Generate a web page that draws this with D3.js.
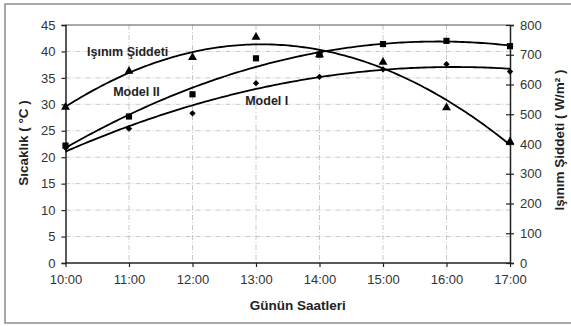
<!DOCTYPE html>
<html>
<head>
<meta charset="utf-8">
<script src="https://cdn.jsdelivr.net/npm/d3@7"></script>
<style>
  body { margin: 0; background: #fff; }
  svg text { font-family: "Liberation Sans", Arial, sans-serif; }
</style>
</head>
<body>
<svg id="chart" width="571" height="326"></svg>
<script>
const hours = [10, 11, 12, 13, 14, 15, 16, 17];
const hourLabels = ["10:00", "11:00", "12:00", "13:00", "14:00", "15:00", "16:00", "17:00"];
const modelI = [21.8, 25.4, 28.3, 34.0, 35.2, 36.6, 37.6, 36.2];
const modelII = [22.2, 27.7, 31.9, 38.7, 39.4, 41.4, 42.0, 41.0];
const radiation = [524, 645, 691, 759, 700, 675, 522, 408];
const leftTicks = [0, 5, 10, 15, 20, 25, 30, 35, 40, 45];
const rightTicks = [0, 100, 200, 300, 400, 500, 600, 700, 800];

const svg = d3.select("#chart"),
  margin = { top: 25, right: 61, bottom: 63, left: 65.5 },
  width = +svg.attr("width"),
  height = +svg.attr("height");

const x0 = margin.left, x1 = width - margin.right, yTop = margin.top, yBot = height - margin.bottom;

const x = d3.scaleLinear().domain([10, 17]).range([x0, x1]);
const yL = d3.scaleLinear().domain([0, 45]).range([yBot, yTop]);
const yR = d3.scaleLinear().domain([0, 800]).range([yBot, yTop]);

// outer frame
svg.append("rect")
  .attr("x", 5).attr("y", 4).attr("width", 620).attr("height", 319)
  .attr("fill", "none").attr("stroke", "#8c8c8c").attr("stroke-width", 1.5);

// grid
const grid = svg.append("g").attr("stroke", "#c8c8c8").attr("stroke-width", 1).attr("stroke-dasharray", "5,2,1,2");
grid.selectAll(".h").data(leftTicks.filter(d => d > 0 && d < 45)).join("line")
  .attr("x1", x0).attr("x2", x1).attr("y1", d => yL(d)).attr("y2", d => yL(d));
grid.selectAll(".v").data(hours.slice(1, -1)).join("line")
  .attr("y1", yTop).attr("y2", yBot).attr("x1", d => x(d)).attr("x2", d => x(d));

// top border
svg.append("line").attr("x1", x0).attr("x2", x1).attr("y1", yTop).attr("y2", yTop)
  .attr("stroke", "#555").attr("stroke-width", 1);

// axes
const axisLeft = svg.append("g").attr("transform", `translate(${x0},0)`)
  .call(d3.axisLeft(yL).tickValues(leftTicks).tickSize(4).tickPadding(6));
const axisRight = svg.append("g").attr("transform", `translate(${x1},0)`)
  .call(d3.axisRight(yR).tickValues(rightTicks).tickSize(4).tickPadding(6));
axisRight.selectAll(".tick line").attr("x1", -4);
const axisBottom = svg.append("g").attr("transform", `translate(0,${yBot})`)
  .call(d3.axisBottom(x).tickValues(hours).tickFormat((d, i) => hourLabels[i]).tickSize(4).tickPadding(8));

[axisLeft, axisRight, axisBottom].forEach(a => {
  a.select(".domain").attr("stroke", "#222").attr("stroke-width", 1.5);
  a.selectAll(".tick line").attr("stroke", "#222").attr("stroke-width", 1.2);
  a.selectAll("text").attr("fill", "#333").attr("font-size", "13px");
});
axisBottom.select(".domain").attr("d", `M${x0},0H${x1}`);

// quadratic least-squares trendline (like the spreadsheet's polynomial trend)
function quadFit(xs, ys) {
  const s = [0, 0, 0, 0, 0], t = [0, 0, 0];
  xs.forEach((xv, i) => {
    for (let k = 0; k < 5; k++) s[k] += Math.pow(xv, k);
    for (let k = 0; k < 3; k++) t[k] += ys[i] * Math.pow(xv, k);
  });
  const A = [[s[0], s[1], s[2], t[0]], [s[1], s[2], s[3], t[1]], [s[2], s[3], s[4], t[2]]];
  for (let c = 0; c < 3; c++) {
    for (let r = c + 1; r < 3; r++) {
      const f = A[r][c] / A[c][c];
      for (let k = c; k < 4; k++) A[r][k] -= f * A[c][k];
    }
  }
  const b = [0, 0, 0];
  for (let r = 2; r >= 0; r--) {
    let v = A[r][3];
    for (let k = r + 1; k < 3; k++) v -= A[r][k] * b[k];
    b[r] = v / A[r][r];
  }
  return h => b[0] + b[1] * (h - 10) + b[2] * (h - 10) * (h - 10);
}

const rel = hours.map(h => h - 10);
const series = [
  { values: modelII, y: yL, symbol: d3.symbolSquare, size: 38, rot: 0 },
  { values: modelI, y: yL, symbol: d3.symbolSquare, size: 20, rot: 45 },
  { values: radiation, y: yR, symbol: d3.symbolTriangle, size: 34, rot: 0 }
];

series.forEach(s => {
  svg.append("g").selectAll("path").data(hours).join("path")
    .attr("transform", (d, i) => `translate(${x(d)},${s.y(s.values[i])}) rotate(${s.rot})`)
    .attr("d", d3.symbol(s.symbol, s.size))
    .attr("fill", "#000");
});

series.forEach(s => {
  const f = quadFit(rel, s.values);
  const pts = d3.range(10, 17.001, 0.05).map(h => [x(h), s.y(f(h))]);
  svg.append("path").datum(pts)
    .attr("d", d3.line())
    .attr("fill", "none").attr("stroke", "#000").attr("stroke-width", 1.8);
});

// in-plot labels (anchored in data units)
const seriesLabels = ["Işınım Şiddeti", "Model II", "Model I"];
const labelHours = [10.34, 10.75, 12.83];
const labelValues = [39.1, 31.6, 29.9];
svg.append("g").selectAll("text").data(seriesLabels).join("text")
  .attr("x", (d, i) => x(labelHours[i]))
  .attr("y", (d, i) => yL(labelValues[i]))
  .attr("font-size", "12.5px").attr("font-weight", "bold").attr("fill", "#222")
  .text(d => d);

// axis titles
svg.append("text").attr("x", (x0 + x1) / 2 + 10).attr("y", 310)
  .attr("text-anchor", "middle").attr("font-size", "13.5px").attr("font-weight", "bold").attr("fill", "#222")
  .text("Günün Saatleri");
svg.append("text").attr("transform", "translate(28,143) rotate(-90)")
  .attr("text-anchor", "middle").attr("font-size", "13.5px").attr("font-weight", "bold").attr("fill", "#222")
  .text("Sıcaklık ( °C )");
svg.append("text").attr("transform", "translate(564,140) rotate(-90)")
  .attr("text-anchor", "middle").attr("font-size", "13.5px").attr("font-weight", "bold").attr("fill", "#222")
  .text("Işınım Şiddeti ( W/m² )");
</script>
</body>
</html>
